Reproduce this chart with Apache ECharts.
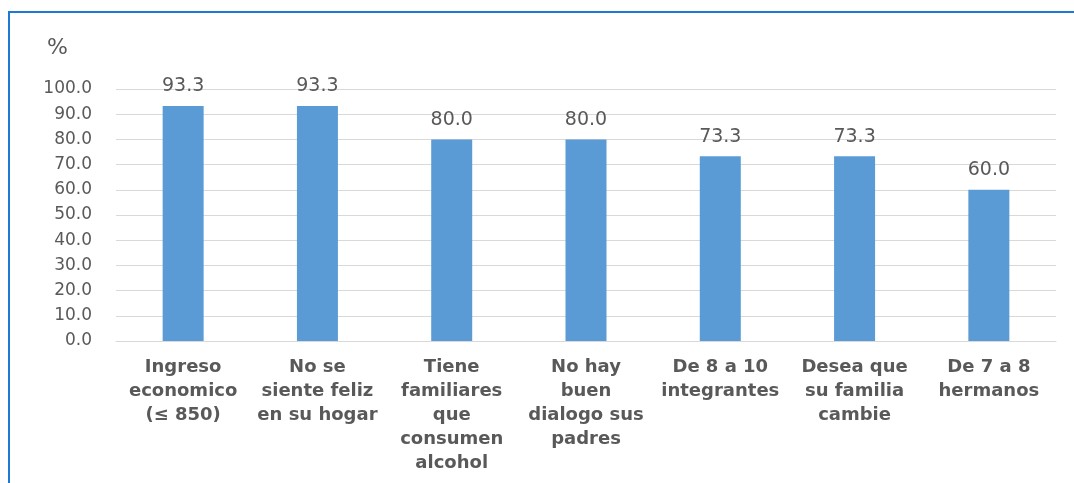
<!DOCTYPE html>
<html>
<head>
<meta charset="utf-8">
<script src="https://cdn.jsdelivr.net/npm/echarts@6/dist/echarts.min.js"></script>
<style>
  html, body { margin: 0; padding: 0; background: #fff; }
  #chart { width: 1074px; height: 483px; }
</style>
</head>
<body>
<div id="chart"></div>
<script>
// Factores asociados (%)
const categories = [
  'Ingreso\neconomico\n(≤ 850)',
  'No se\nsiente feliz\nen su hogar',
  'Tiene\nfamiliares\nque\nconsumen\nalcohol',
  'No hay\nbuen\ndialogo sus\npadres',
  'De 8 a 10\nintegrantes',
  'Desea que\nsu familia\ncambie',
  'De 7 a 8\nhermanos'
];
const values = [93.3, 93.3, 80.0, 80.0, 73.3, 73.3, 60.0];
const yTicks = { min: 0, max: 100, interval: 10 };

const textColor = '#595959';
const font = 'DejaVu Sans';

const chart = echarts.init(document.getElementById('chart'));
chart.setOption({
  animation: false,
  backgroundColor: '#ffffff',
  title: {
    text: '%',
    left: 42,
    top: 32,
    textStyle: { fontFamily: font, fontSize: 22, fontWeight: 'normal', color: textColor }
  },
  graphic: [
    { type: 'line', shape: { x1: 8, y1: 12, x2: 1074, y2: 12 }, style: { stroke: '#1f78d1', lineWidth: 2 } },
    { type: 'line', shape: { x1: 9, y1: 12, x2: 9, y2: 483 }, style: { stroke: '#1f78d1', lineWidth: 2 } }
  ],
  grid: { left: 116, right: 18, top: 89, bottom: 142 },
  xAxis: {
    type: 'category',
    data: categories,
    axisLine: { show: true, lineStyle: { color: '#d9d9d9', width: 1 } },
    axisTick: { show: false },
    axisLabel: {
      interval: 0,
      margin: 14,
      fontFamily: font,
      fontSize: 18,
      fontWeight: 'bold',
      lineHeight: 24,
      color: textColor
    }
  },
  yAxis: {
    type: 'value',
    min: yTicks.min,
    max: yTicks.max,
    interval: yTicks.interval,
    axisLine: { show: false },
    axisTick: { show: false },
    splitLine: { lineStyle: { color: '#d9d9d9', width: 1 } },
    axisLabel: {
      margin: 24,
      fontFamily: font,
      fontSize: 17,
      color: textColor,
      formatter: v => v.toFixed(1)
    }
  },
  series: [{
    type: 'bar',
    data: values,
    barWidth: 41,
    itemStyle: { color: '#5b9bd5' },
    label: {
      show: true,
      position: 'top',
      distance: 10,
      fontFamily: font,
      fontSize: 19,
      color: textColor,
      formatter: p => p.value.toFixed(1)
    }
  }]
});
</script>
</body>
</html>
